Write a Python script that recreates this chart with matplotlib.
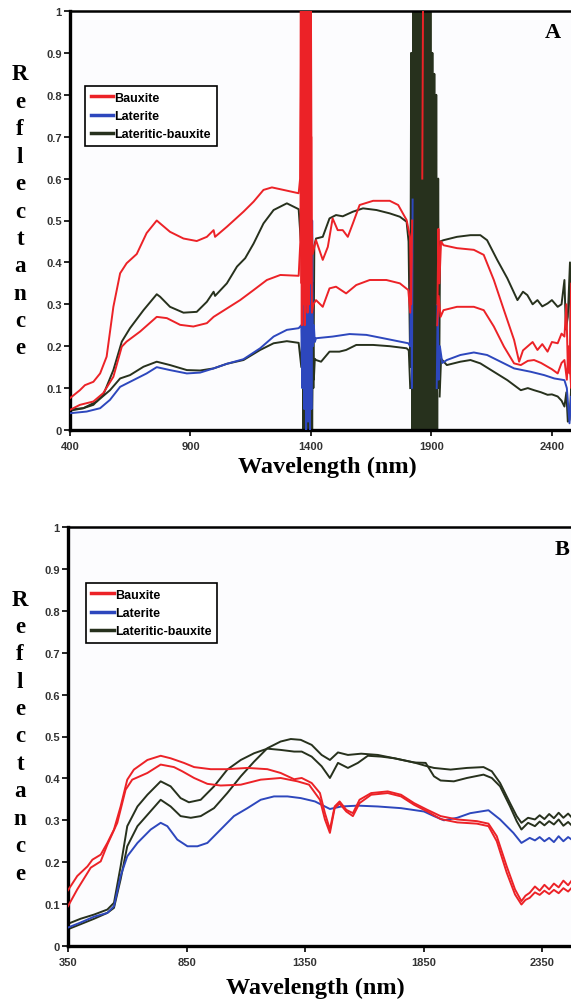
import numpy as np
import matplotlib.pyplot as plt

nan = np.nan
plt.rcParams["path.simplify"] = False

RED = "#ec2227"
BLUE = "#2d47bd"
DARK = "#27311d"

y_ticks = [0, 0.1, 0.2, 0.3, 0.4, 0.5, 0.6, 0.7, 0.8, 0.9, 1.0]
y_tick_labels = ["0", "0.1", "0.2", "0.3", "0.4", "0.5", "0.6", "0.7", "0.8", "0.9", "1"]
a_xticks = [400, 900, 1400, 1900, 2400]
b_xticks = [350, 850, 1350, 1850, 2350]
legend_names = ["Bauxite", "Laterite", "Lateritic-bauxite"]

# ---------------- panel A ----------------
a_bx1_wl = [400, 441, 462, 497, 525, 552, 580, 608, 635, 677, 718, 760, 774, 815, 871, 926, 968, 996, 1002,
            1051, 1120, 1162, 1203, 1238, 1286, 1349,
            1355, 1358, 1361, 1364, 1367, 1370, 1373, 1376, 1379, 1382, 1385, 1388, 1391, 1394, 1397, 1400, 1403, 1407,
            1421, 1449, 1470, 1490, 1511, 1532, 1553, 1574, 1602, 1658, 1727, 1762, 1797, 1811, 1816, 1820, 1823,
            1862, 1865, 1867, 1925, 1929, 1933, 1940,
            1950, 2006, 2076, 2117, 2159, 2201, 2243, 2264, 2280, 2298, 2320, 2340, 2360, 2382, 2400, 2424, 2440,
            2452, 2460, 2466, 2473, 2480, 2485, 2490, 2495, 2500]
a_bx1 = [0.076, 0.095, 0.107, 0.115, 0.135, 0.175, 0.294, 0.374, 0.398, 0.42, 0.47, 0.50, 0.493, 0.473, 0.457,
         0.451, 0.461, 0.477, 0.461, 0.485, 0.521, 0.545, 0.573, 0.579, 0.573, 0.565,
         0.60, 1.0, 0.35, 1.0, 0.30, 1.0, 0.35, 1.0, 0.30, 1.0, 0.40, 1.0, 0.30, 1.0, 0.45, 1.0, 0.50, 0.42,
         0.453, 0.406, 0.437, 0.505, 0.477, 0.477, 0.461, 0.493, 0.537, 0.547, 0.547, 0.537, 0.501, 0.461, 0.30,
         0.50, nan, 0.60, 1.0, nan, 0.30, 0.48, 0.35, 0.45,
         0.441, 0.434, 0.43, 0.418, 0.358, 0.286, 0.215, 0.163, 0.19, 0.199, 0.21, 0.191, 0.205, 0.187, 0.21,
         0.207, 0.23, 0.223, 0.30, 0.15, 0.135, 0.35, 0.12, 0.30, 0.15, 0.25]

a_bx2_wl = [400, 441, 497, 538, 580, 615, 635, 691, 760, 802, 857, 912, 968, 996, 1051, 1106, 1162, 1217, 1273, 1349,
            1356, 1359, 1362, 1365, 1368, 1371, 1374, 1377, 1380, 1383, 1386, 1389, 1392, 1395, 1398, 1401, 1404, 1410,
            1421, 1449, 1477, 1504, 1546, 1588, 1644, 1713, 1769, 1804, 1812, 1817, 1821,
            1924, 1930, 1938, 1950, 2006, 2076, 2117, 2159, 2201, 2243, 2271, 2300, 2326, 2355, 2382, 2400, 2424,
            2440, 2452, 2462, 2470, 2480, 2490, 2500]
a_bx2 = [0.048, 0.06, 0.068, 0.088, 0.127, 0.199, 0.211, 0.235, 0.27, 0.267, 0.251, 0.247, 0.255, 0.27, 0.29, 0.31,
         0.334, 0.358, 0.37, 0.368,
         0.45, 0.85, 0.25, 0.90, 0.30, 0.85, 0.25, 0.90, 0.30, 0.80, 0.28, 0.90, 0.30, 0.85, 0.35, 0.70, 0.28, 0.30,
         0.31, 0.294, 0.338, 0.342, 0.326, 0.346, 0.358, 0.358, 0.35, 0.334, 0.28, 0.42, nan,
         0.25, 0.32, 0.27, 0.286, 0.294, 0.294, 0.286, 0.247, 0.199, 0.159, 0.155, 0.165, 0.167, 0.16, 0.151, 0.145,
         0.135, 0.16, 0.167, 0.12, 0.20, 0.10, 0.18, 0.12]

a_lat_wl = [400, 469, 525, 566, 608, 663, 718, 760, 815, 885, 940, 996, 1051, 1120, 1189, 1245, 1300, 1349,
            1360, 1364, 1368, 1372, 1376, 1380, 1384, 1388, 1392, 1396, 1399, 1402, 1405, 1408, 1412, 1416,
            1421, 1490, 1560, 1630, 1700, 1769, 1804, 1812, 1816, 1819, 1822, 1825,
            1922, 1926, 1930, 1935, 1945, 1964, 2020, 2076, 2131, 2187, 2243, 2312, 2368, 2410, 2452, 2462, 2473,
            2480, 2490, 2500]
a_lat = [0.04, 0.044, 0.052, 0.072, 0.103, 0.119, 0.135, 0.15, 0.143, 0.135, 0.137, 0.147, 0.158, 0.169, 0.195,
         0.223, 0.239, 0.243,
         0.25, 0.10, 0.40, 0.05, 0.45, 0.0, 0.50, 0.02, 0.55, 0.0, 0.60, 0.05, 0.50, 0.20, 0.25, 0.21,
         0.219, 0.223, 0.229, 0.227, 0.219, 0.211, 0.207, 0.20, 0.45, 0.10, 0.55, nan,
         0.10, 0.30, 0.12, 0.20, 0.16, 0.167, 0.179, 0.185, 0.179, 0.163, 0.147, 0.139, 0.131, 0.123, 0.119, 0.10,
         0.016, 0.08, 0.0, 0.05]

a_lb1_wl = [400, 455, 497, 538, 580, 615, 649, 705, 760, 774, 815, 871, 926, 968, 996, 1002, 1051, 1093, 1127,
            1162, 1203, 1245, 1300, 1349, 1358, 1364,
            1368, 1371, 1374, 1377, 1380, 1383, 1386, 1389, 1392, 1395, 1398, 1401, 1404, 1407, 1410, 1414,
            1421, 1449, 1477, 1504, 1532, 1574, 1616, 1672, 1727, 1769, 1797, 1805,
            1812, 1816, 1820, 1824, 1828, 1832, 1836, 1840, 1844, 1848, 1852, 1856, 1860, 1864, 1868, 1872, 1876,
            1880, 1884, 1888, 1892, 1896, 1900, 1904, 1908, 1912, 1916, 1920, 1924, 1928, 1932, 1936,
            1950, 2006, 2062, 2103, 2131, 2173, 2215, 2257, 2280, 2298, 2320, 2340, 2360, 2382, 2400, 2424, 2440,
            2452, 2458, 2466, 2475, 2480, 2488, 2495, 2500]
a_lb1 = [0.046, 0.052, 0.06, 0.084, 0.143, 0.211, 0.243, 0.286, 0.324, 0.318, 0.294, 0.28, 0.282, 0.306, 0.33,
         0.32, 0.35, 0.39, 0.41, 0.445, 0.493, 0.525, 0.541, 0.527, 0.45, 0.50,
         0.0, 0.45, 0.0, 0.40, 0.0, 0.45, 0.0, 0.40, 0.0, 0.45, 0.0, 0.40, 0.0, 0.35, 0.10, 0.44,
         0.457, 0.461, 0.505, 0.513, 0.51, 0.521, 0.529, 0.525, 0.517, 0.509, 0.497, 0.45,
         0.15, 0.90, 0.0, 1.0, 0.0, 1.0, 0.0, 1.0, 0.0, 1.0, 0.0, 1.0, 0.0, 1.0, 0.0, 1.0, 0.0,
         1.0, 0.0, 1.0, 0.0, 1.0, 0.0, 0.90, 0.0, 0.85, 0.0, 0.80, 0.0, 0.60, 0.10, 0.45,
         0.453, 0.461, 0.465, 0.465, 0.453, 0.406, 0.362, 0.31, 0.33, 0.322, 0.30, 0.31, 0.295, 0.302, 0.31,
         0.294, 0.30, 0.358, 0.24, 0.27, 0.40, 0.05, 0.30, 0.10, 0.25]

a_lb2_wl = [400, 455, 511, 566, 608, 649, 705, 760, 815, 885, 940, 996, 1051, 1120, 1189, 1245, 1300, 1349,
            1360, 1366,
            1369, 1372, 1375, 1378, 1381, 1384, 1387, 1390, 1393, 1396, 1399, 1402, 1405, 1408, 1412, 1416,
            1421, 1442, 1477, 1518, 1546, 1588, 1658, 1727, 1797, 1806, 1812, 1816,
            1934, 1940, 1964, 2020, 2062, 2103, 2159, 2215, 2271, 2300, 2326, 2355, 2382, 2400, 2424, 2440, 2452,
            2460, 2466, 2473, 2480, 2488, 2495, 2500]
a_lb2 = [0.049, 0.052, 0.068, 0.095, 0.123, 0.131, 0.151, 0.163, 0.155, 0.143, 0.142, 0.147, 0.158, 0.167, 0.191,
         0.207, 0.212, 0.208, 0.15, 0.30,
         0.0, 0.35, 0.0, 0.30, 0.0, 0.35, 0.0, 0.30, 0.0, 0.35, 0.0, 0.30, 0.0, 0.25, 0.12, 0.17,
         0.167, 0.163, 0.187, 0.187, 0.191, 0.203, 0.203, 0.20, 0.195, 0.19, 0.10, nan,
         0.08, 0.17, 0.155, 0.163, 0.167, 0.159, 0.139, 0.119, 0.095, 0.10, 0.095, 0.09, 0.084, 0.085, 0.08, 0.07,
         0.056, 0.09, 0.02, 0.024, 0.10, 0.0, 0.05, 0.0]

# ---------------- panel B ----------------
b_bx1_wl = [350, 389, 432, 453, 488, 516, 544, 572, 600, 628, 685, 741, 783, 839, 882, 952, 1022, 1107, 1191,
            1247, 1304, 1336, 1378, 1413, 1434, 1455, 1475, 1496, 1524, 1552, 1580, 1629, 1699, 1755, 1810, 1866,
            1922, 1992, 2075, 2124, 2159, 2201, 2236, 2263, 2280, 2298, 2320, 2340, 2360, 2380, 2400, 2420, 2440,
            2460, 2480, 2500]
b_bx1 = [0.133, 0.167, 0.19, 0.206, 0.218, 0.246, 0.278, 0.333, 0.397, 0.421, 0.444, 0.454, 0.448, 0.437, 0.427,
         0.422, 0.422, 0.425, 0.422, 0.413, 0.398, 0.401, 0.389, 0.365, 0.317, 0.278, 0.333, 0.345, 0.325, 0.317,
         0.349, 0.365, 0.369, 0.361, 0.341, 0.325, 0.31, 0.302, 0.298, 0.292, 0.262, 0.19, 0.135, 0.107, 0.12,
         0.127, 0.142, 0.132, 0.146, 0.135, 0.149, 0.14, 0.156, 0.145, 0.16, 0.15]

b_bx2_wl = [350, 389, 446, 488, 516, 558, 593, 621, 685, 741, 797, 832, 882, 938, 994, 1079, 1163, 1247, 1318,
            1367, 1413, 1434, 1455, 1475, 1496, 1524, 1552, 1580, 1629, 1699, 1755, 1810, 1866, 1922, 1992, 2075,
            2124, 2159, 2201, 2236, 2263, 2280, 2298, 2320, 2340, 2360, 2380, 2400, 2420, 2440, 2460, 2480, 2500]
b_bx2 = [0.095, 0.135, 0.187, 0.202, 0.242, 0.294, 0.373, 0.397, 0.413, 0.433, 0.427, 0.417, 0.401, 0.387, 0.383,
         0.385, 0.397, 0.401, 0.393, 0.385, 0.349, 0.302, 0.27, 0.329, 0.34, 0.321, 0.31, 0.341, 0.361, 0.365,
         0.357, 0.337, 0.321, 0.303, 0.295, 0.292, 0.286, 0.25, 0.175, 0.123, 0.099, 0.11, 0.115, 0.128, 0.122,
         0.132, 0.124, 0.134, 0.126, 0.138, 0.13, 0.142, 0.136]

b_lat_wl = [350, 403, 460, 516, 544, 572, 600, 643, 699, 741, 769, 811, 854, 896, 938, 994, 1050, 1107, 1163,
            1219, 1276, 1332, 1392, 1455, 1503, 1573, 1657, 1755, 1852, 1894, 1936, 1992, 2047, 2124, 2173, 2229,
            2263, 2298, 2320, 2340, 2360, 2380, 2400, 2420, 2440, 2460, 2480, 2500]
b_lat = [0.044, 0.056, 0.07, 0.079, 0.095, 0.167, 0.214, 0.246, 0.278, 0.294, 0.286, 0.254, 0.238, 0.238, 0.246,
         0.278, 0.31, 0.329, 0.349, 0.357, 0.357, 0.353, 0.345, 0.327, 0.333, 0.335, 0.333, 0.329, 0.321, 0.31,
         0.30, 0.306, 0.317, 0.324, 0.302, 0.27, 0.246, 0.258, 0.252, 0.26, 0.25, 0.258, 0.248, 0.262, 0.25,
         0.26, 0.252, 0.256]

b_lb1_wl = [350, 403, 460, 516, 544, 572, 600, 643, 685, 741, 783, 825, 860, 910, 966, 1022, 1079, 1135, 1191,
            1247, 1304, 1336, 1378, 1420, 1455, 1489, 1531, 1573, 1615, 1671, 1727, 1810, 1859, 1894, 1922, 1978,
            2033, 2103, 2138, 2173, 2215, 2243, 2263, 2291, 2320, 2340, 2360, 2380, 2400, 2420, 2440, 2460, 2480,
            2500]
b_lb1 = [0.053, 0.065, 0.075, 0.087, 0.103, 0.19, 0.286, 0.333, 0.361, 0.393, 0.381, 0.353, 0.343, 0.349, 0.381,
         0.421, 0.444, 0.46, 0.471, 0.468, 0.464, 0.464, 0.452, 0.429, 0.401, 0.437, 0.425, 0.437, 0.454, 0.452,
         0.448, 0.438, 0.437, 0.405, 0.395, 0.393, 0.401, 0.409, 0.401, 0.381, 0.333, 0.298, 0.278, 0.294, 0.286,
         0.297, 0.288, 0.298, 0.29, 0.302, 0.287, 0.296, 0.285, 0.292]

b_lb2_wl = [350, 403, 460, 516, 544, 572, 600, 643, 685, 741, 783, 825, 868, 910, 966, 1022, 1079, 1135, 1191,
            1247, 1290, 1332, 1378, 1420, 1455, 1489, 1531, 1587, 1657, 1727, 1810, 1859, 1894, 1964, 2033, 2103,
            2138, 2173, 2215, 2243, 2263, 2291, 2320, 2340, 2360, 2380, 2400, 2420, 2440, 2460, 2480, 2500]
b_lb2 = [0.04, 0.052, 0.065, 0.079, 0.091, 0.159, 0.238, 0.286, 0.313, 0.349, 0.333, 0.31, 0.306, 0.31, 0.329,
         0.365, 0.405, 0.44, 0.472, 0.488, 0.494, 0.492, 0.48, 0.456, 0.444, 0.462, 0.456, 0.459, 0.456, 0.448,
         0.438, 0.43, 0.425, 0.421, 0.425, 0.427, 0.417, 0.389, 0.341, 0.31, 0.294, 0.306, 0.302, 0.312, 0.303,
         0.315, 0.305, 0.318, 0.306, 0.316, 0.304, 0.31]

serif = "Liberation Serif"
sans = "Liberation Sans"

fig = plt.figure(figsize=(5.71, 10.03), dpi=100)
fig.patch.set_facecolor("white")


def draw_panel(ax, curves, xlim, xticks, leg_anchor):
    handles = {}
    for wl, refl, col, z, name in curves:
        ln, = ax.plot(wl, refl, color=col, lw=1.4, zorder=z, solid_joinstyle="round")
        handles.setdefault(name, ln)
    ax.set_xlim(*xlim)
    ax.set_ylim(0, 1)
    ax.set_facecolor("#fcfcfe")
    ax.set_yticks(y_ticks)
    ax.set_yticklabels(y_tick_labels)
    ax.set_xticks(xticks)
    ax.set_xticklabels([str(t) for t in xticks])
    for lab in ax.get_xticklabels() + ax.get_yticklabels():
        lab.set_fontfamily(sans)
        lab.set_fontweight("bold")
        lab.set_fontsize(8)
        lab.set_color("#333333")
    ax.tick_params(axis="y", direction="out", length=4, width=1.2, pad=2)
    ax.tick_params(axis="x", direction="out", length=4, width=1.2, pad=4)
    ax.spines["left"].set_linewidth(2.4)
    ax.spines["bottom"].set_linewidth(2.4)
    ax.spines["top"].set_linewidth(1.8)
    ax.spines["right"].set_visible(False)
    hs = [handles[n] for n in legend_names]
    leg = ax.legend(hs, legend_names, loc="upper left", bbox_to_anchor=leg_anchor, borderaxespad=0,
                    frameon=True, fancybox=False, edgecolor="black", framealpha=1,
                    prop=dict(family=sans, weight="bold", size=9),
                    handlelength=1.8, handletextpad=0.1, labelspacing=0.5, borderpad=0.45)
    leg.get_frame().set_linewidth(1.2)
    for ln in leg.get_lines():
        ln.set_linewidth(2.5)


ax_a = fig.add_axes([70 / 571, 1 - 431 / 1003, 506 / 571, 419 / 1003])
draw_panel(ax_a, [
    (a_lb1_wl, a_lb1, DARK, 2, "Lateritic-bauxite"),
    (a_lb2_wl, a_lb2, DARK, 2, "Lateritic-bauxite"),
    (a_lat_wl, a_lat, BLUE, 3, "Laterite"),
    (a_bx1_wl, a_bx1, RED, 4, "Bauxite"),
    (a_bx2_wl, a_bx2, RED, 4, "Bauxite"),
], (400, 2500), a_xticks, (0.03, 0.821))

ax_b = fig.add_axes([68 / 571, 1 - 947 / 1003, 509.6 / 571, 419 / 1003])
draw_panel(ax_b, [
    (b_lb1_wl, b_lb1, DARK, 2, "Lateritic-bauxite"),
    (b_lb2_wl, b_lb2, DARK, 2, "Lateritic-bauxite"),
    (b_lat_wl, b_lat, BLUE, 3, "Laterite"),
    (b_bx1_wl, b_bx1, RED, 4, "Bauxite"),
    (b_bx2_wl, b_bx2, RED, 4, "Bauxite"),
], (350, 2500), b_xticks, (0.035, 0.866))

# stacked y labels, x labels and panel tags
for yc in (212, 737):
    fig.text(20 / 571, 1 - yc / 1003, "\n".join("Reflectance"), ha="center", va="center",
             multialignment="center", family=serif, weight="bold", fontsize=16.5, linespacing=1.4)
fig.text(327 / 571, 1 - 467 / 1003, "Wavelength (nm)", ha="center", va="center",
         family=serif, weight="bold", fontsize=17.5)
fig.text(315 / 571, 1 - 988 / 1003, "Wavelength (nm)", ha="center", va="center",
         family=serif, weight="bold", fontsize=17.5)
fig.text(553 / 571, 1 - 33 / 1003, "A", ha="center", va="center", family=serif, weight="bold", fontsize=16)
fig.text(562 / 571, 1 - 550 / 1003, "B", ha="center", va="center", family=serif, weight="bold", fontsize=16)

fig.savefig("out.png", dpi=100)
